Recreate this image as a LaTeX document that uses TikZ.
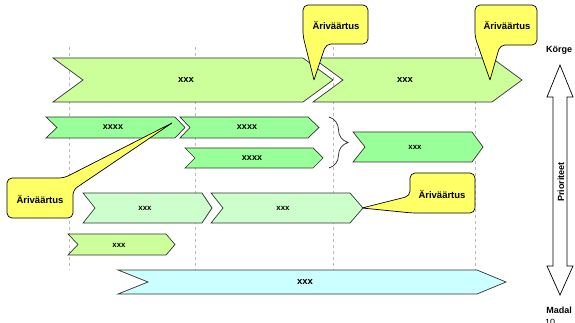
\documentclass[tikz,border=0pt]{standalone}
\usepackage{fontspec}
\setmainfont{Liberation Sans}
\usetikzlibrary{decorations.pathreplacing}
\definecolor{barlime}{HTML}{CCFF99}
\definecolor{barmid}{HTML}{99FF99}
\definecolor{barpale}{HTML}{CCFFCC}
\definecolor{barcyan}{HTML}{CCFFFF}
\definecolor{callyellow}{HTML}{FFFF66}
\definecolor{gridgray}{HTML}{BBBBBB}
% x1 x2 ytop ybot notch tip fill
\newcommand\chevbar[7]{%
  \filldraw[barline, fill=#7] (#1,#3) -- (#2,#3) -- ({#2+#6},{(#3+#4)/2}) -- (#2,#4) -- (#1,#4) -- ({#1+#5},{(#3+#4)/2}) -- cycle;}
\begin{document}
\begin{tikzpicture}[x=1pt,y=-1pt,
  barline/.style={draw=black!80,line width=0.7pt},
  gridline/.style={draw=gridgray,line width=0.6pt,dash pattern=on 3pt off 3pt},
  callbox/.style={draw=black,line width=0.7pt,fill=callyellow,rounded corners=5pt},
  calltext/.style={font=\bfseries\fontsize{9.5}{11}\selectfont},
  bigx/.style={font=\bfseries\fontsize{9.5}{11}\selectfont},
  midx/.style={font=\bfseries\fontsize{9}{11}\selectfont},
  smallx/.style={font=\bfseries\fontsize{7.8}{9}\selectfont},
  sidetext/.style={font=\bfseries\fontsize{9}{11}\selectfont}]
\useasboundingbox (0,0) rectangle (575,323);

% grid lines
\foreach \gx in {69,195,333,475} \draw[gridline] (\gx,47) -- (\gx,270);

% top bars
\chevbar{53}{303}{58}{102}{30}{30}{barlime}
\chevbar{313}{492}{58}{102}{30}{30}{barlime}
\node[bigx] (ta) at (186,80) {xxx};
\node[bigx] (tb) at (405,80) {xxx};

% row 2
\chevbar{46}{175}{117}{138}{11}{10}{barmid}
\chevbar{180}{308}{117}{138}{10}{11}{barmid}
\chevbar{185}{313}{148}{168}{10}{10}{barmid}
\chevbar{353}{472}{132}{162}{12}{11}{barmid}
\node[midx] (c1) at (113,127.5) {xxxx};
\node[midx] (c2) at (247,127.5) {xxxx};
\node[midx] (c3) at (252,158) {xxxx};
\node[smallx] (c4) at (415,147) {xxx};

% brace
\draw[black!85,line width=0.7pt,decorate,decoration={brace,amplitude=19pt,aspect=0.5}] (329,117) -- (329,168);

% row 3
\chevbar{83}{202}{193}{223}{12}{10}{barpale}
\chevbar{211}{350}{193}{223}{12}{13}{barpale}
\node[smallx] (d1) at (145,208) {xxx};
\node[smallx] (d2) at (283,208) {xxx};

% row 4
\chevbar{68}{166}{234}{255}{10}{9}{barlime}
\node[smallx] (e1) at (119,245) {xxx};

% row 5
\chevbar{118}{477}{270}{294}{30}{29}{barcyan}
\node[bigx] (f1) at (305,282) {xxx};

% callouts
\path[callbox] (314,80) -- (303,36) -- (303,5) -- (368,5) -- (368,44) -- (326,44) -- (314,80);
\node[calltext] (k1) at (336,25) {Äriväärtus};
\path[callbox] (490,80) -- (475,37) -- (475,5) -- (537,5) -- (537,45) -- (500,45) -- (490,80);
\node[calltext] (k2) at (507,25) {Äriväärtus};
\path[callbox] (172,123) -- (73,190) -- (73,218) -- (7,218) -- (7,178) -- (64,178) -- (172,123);
\node[calltext] (k3) at (40,199) {Äriväärtus};
\path[callbox] (362,208) -- (410,196) -- (410,173) -- (475,173) -- (475,213) -- (412,213) -- (362,208);
\node[calltext] (k4) at (442,194) {Äriväärtus};

% priority arrow
\filldraw[draw=black,fill=white,line width=0.7pt]
  (560,65) -- (573,97) -- (567,97) -- (567,266) -- (573,266) -- (560,295)
  -- (547,266) -- (553,266) -- (553,97) -- (547,97) -- cycle;
\node[sidetext,rotate=90] (pr) at (561,182) {Prioriteet};
\node[sidetext] (hi) at (559,50) {Körge};
\node[sidetext] (lo) at (559,310) {Madal};
\node[font=\fontsize{9}{11}\selectfont,anchor=base west,inner sep=0pt] (pg) at (545,325) {10};
\end{tikzpicture}
\end{document}
